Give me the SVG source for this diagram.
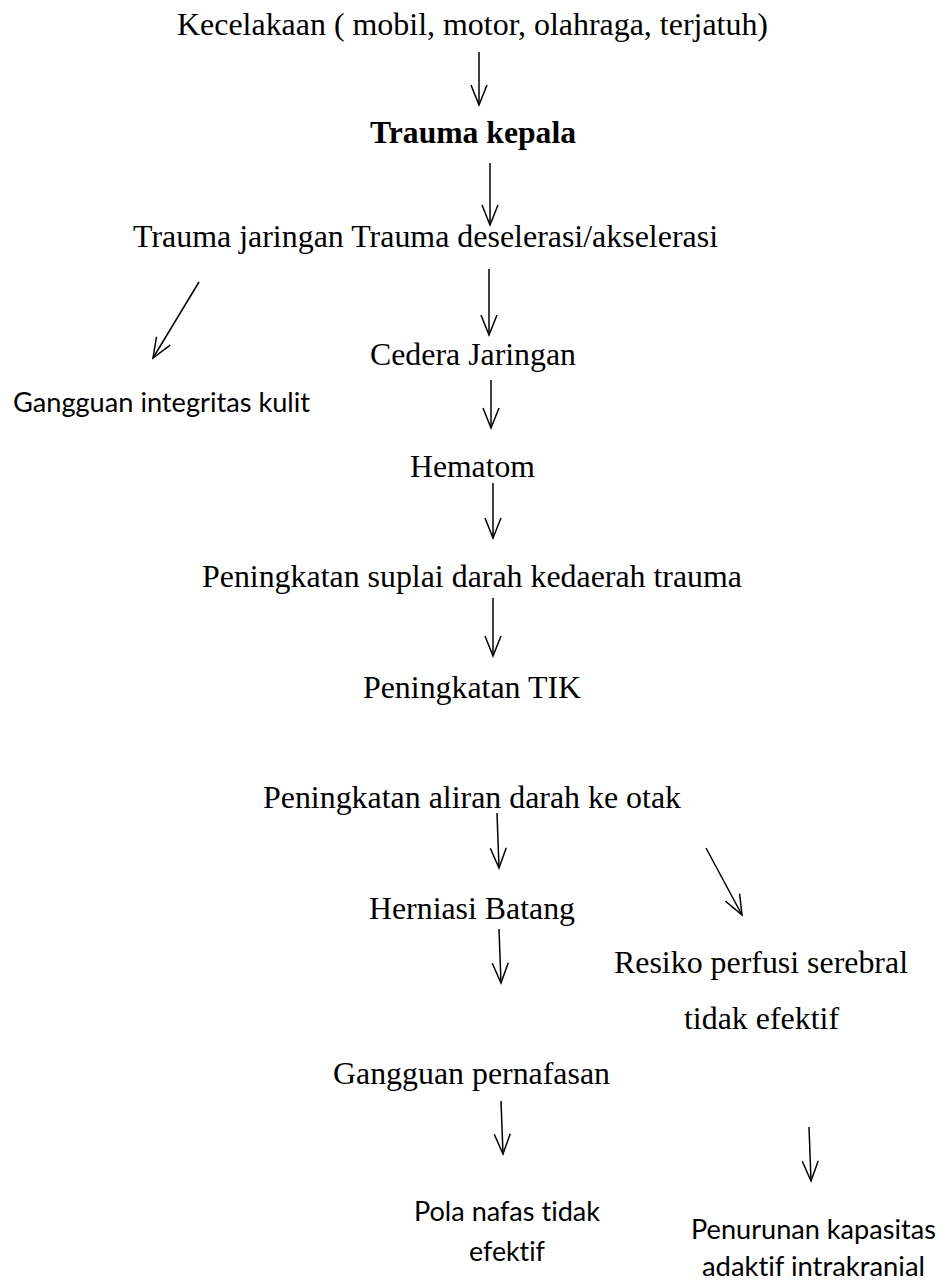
<svg xmlns="http://www.w3.org/2000/svg" width="946" height="1286" viewBox="0 0 946 1286">
<defs>
<style>
.s{font-family:"Liberation Serif","Times New Roman",serif;font-size:32px;fill:#000}
.b{font-weight:bold}
.c{font-family:Lato,"Open Sans","Liberation Sans",sans-serif;font-size:26px;fill:#000;font-variant-ligatures:none}
.e{stroke:#000;stroke-width:1.5;fill:none;marker-end:url(#ah)}
</style>
<marker id="ah" markerUnits="userSpaceOnUse" markerWidth="24" markerHeight="20" viewBox="0 0 24 20" refX="22" refY="10" orient="auto" overflow="visible">
<path d="M2,2 L22,10 L2,18" fill="none" stroke="#000" stroke-width="1.5"/>
</marker>
</defs>
<rect width="946" height="1286" fill="#fff"/>
<g id="n1"><text class="s" x="177" y="35" textLength="591" lengthAdjust="spacingAndGlyphs">Kecelakaan ( mobil, motor, olahraga, terjatuh)</text></g>
<g id="n2"><text class="s b" x="370" y="143" textLength="206" lengthAdjust="spacingAndGlyphs">Trauma kepala</text></g>
<g id="n3"><text class="s" x="133" y="247" textLength="585" lengthAdjust="spacingAndGlyphs">Trauma jaringan Trauma deselerasi/akselerasi</text></g>
<g id="n4"><text class="s" x="370" y="365" textLength="206" lengthAdjust="spacingAndGlyphs">Cedera Jaringan</text></g>
<g id="n5"><text class="c" x="13" y="412" textLength="297" lengthAdjust="spacingAndGlyphs">Gangguan integritas kulit</text></g>
<g id="n6"><text class="s" x="410" y="477" textLength="125" lengthAdjust="spacingAndGlyphs">Hematom</text></g>
<g id="n7"><text class="s" x="202" y="587" textLength="540" lengthAdjust="spacingAndGlyphs">Peningkatan suplai darah kedaerah trauma</text></g>
<g id="n8"><text class="s" x="363" y="698" textLength="218" lengthAdjust="spacingAndGlyphs">Peningkatan TIK</text></g>
<g id="n9"><text class="s" x="263" y="808" textLength="418" lengthAdjust="spacingAndGlyphs">Peningkatan aliran darah ke otak</text></g>
<g id="n10"><text class="s" x="369" y="919" textLength="206" lengthAdjust="spacingAndGlyphs">Herniasi Batang</text></g>
<g id="n11">
<text class="s" x="614" y="973" textLength="294" lengthAdjust="spacingAndGlyphs">Resiko perfusi serebral</text>
<text class="s" x="684" y="1029" textLength="155" lengthAdjust="spacingAndGlyphs">tidak efektif</text>
</g>
<g id="n12"><text class="s" x="333" y="1084" textLength="277" lengthAdjust="spacingAndGlyphs">Gangguan pernafasan</text></g>
<g id="n13">
<text class="c" x="414" y="1221" textLength="186" lengthAdjust="spacingAndGlyphs">Pola nafas tidak</text>
<text class="c" x="469" y="1261" textLength="76" lengthAdjust="spacingAndGlyphs">efektif</text>
</g>
<g id="n14">
<text class="c" x="691" y="1239" textLength="245" lengthAdjust="spacingAndGlyphs">Penurunan kapasitas</text>
<text class="c" x="702" y="1276" textLength="223" lengthAdjust="spacingAndGlyphs">adaktif intrakranial</text>
</g>
<g id="connectors">
<line class="e" x1="479" y1="52" x2="479" y2="105"/>
<line class="e" x1="490" y1="163" x2="490" y2="225"/>
<line class="e" x1="489" y1="269" x2="489" y2="335"/>
<line class="e" x1="199" y1="282" x2="153" y2="358"/>
<line class="e" x1="491" y1="380" x2="491" y2="428"/>
<line class="e" x1="493" y1="483" x2="493" y2="538"/>
<line class="e" x1="493" y1="598" x2="493" y2="656"/>
<line class="e" x1="497" y1="813" x2="499" y2="868"/>
<line class="e" x1="706" y1="848" x2="742" y2="915"/>
<line class="e" x1="499" y1="929" x2="501" y2="983"/>
<line class="e" x1="501" y1="1101" x2="503" y2="1154"/>
<line class="e" x1="809" y1="1127" x2="811" y2="1181"/>
</g>
</svg>
